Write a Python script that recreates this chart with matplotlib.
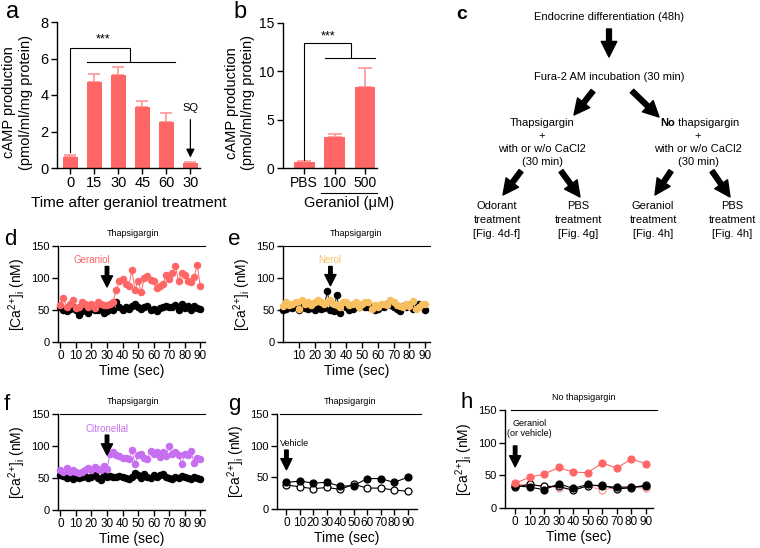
import matplotlib.pyplot as plt
from matplotlib.transforms import blended_transform_factory

plt.rcParams['font.family'] = ['Liberation Sans', 'DejaVu Sans']
plt.rcParams['mathtext.default'] = 'regular'

RED = '#FF6666'
PINK = '#FF9C9C'
PURPLE = '#C86EF0'
YELLOW = '#F8C060'

# panel a: cAMP vs time after geraniol
a_labels = ['0', '15', '30', '45', '60', '30']
a_vals = [0.6, 4.7, 5.1, 3.35, 2.5, 0.3]
a_err = [0.1, 0.45, 0.45, 0.3, 0.5, 0.03]

# panel b: cAMP vs geraniol dose
b_labels = ['PBS', '100', '500']
b_vals = [0.6, 3.2, 8.35]
b_err = [0.1, 0.3, 2.0]

# panels d-f: 2 s sampling
t_fast = list(range(0, 92, 2))
d_geraniol = [58, 68, 55, 60, 66, 53, 54, 63, 60, 55, 60, 53, 63, 60, 58, 58, 60, 63, 82, 95,
              99, 90, 88, 112, 82, 95, 78, 100, 103, 97, 95, 84, 88, 90, 104, 99, 108, 118, 95, 108,
              104, 95, 93, 102, 120, 87]
d_ctrl = [55, 50, 48, 52, 55, 50, 42, 48, 53, 46, 52, 50, 50, 55, 46, 48, 52, 50, 62, 55,
          50, 54, 52, 56, 60, 55, 52, 55, 56, 50, 52, 48, 53, 55, 56, 55, 54, 58, 50, 60,
          53, 57, 50, 56, 53, 52]
e_nerol = [57, 62, 58, 60, 62, 52, 65, 60, 62, 58, 62, 65, 62, 60, 62, 65, 60, 58, 55, 62,
           63, 58, 60, 62, 55, 60, 62, 62, 52, 58, 55, 60, 60, 58, 66, 62, 58, 57, 55, 60,
           56, 64, 52, 55, 60, 60]
e_ctrl = [50, 52, 55, 53, 55, 50, 55, 53, 52, 53, 50, 53, 52, 53, 80, 50, 48, 73, 46, 60,
          55, 50, 52, 56, 55, 58, 55, 54, 55, 50, 52, 56, 55, 60, 58, 55, 52, 48, 56, 55,
          58, 52, 55, 60, 56, 50]
f_citronellal = [62, 60, 66, 60, 62, 60, 58, 60, 62, 66, 62, 67, 64, 63, 68, 64, 88, 90, 86, 85,
                 82, 82, 80, 93, 72, 86, 87, 82, 80, 92, 88, 90, 83, 91, 85, 100, 87, 90, 86, 72,
                 88, 86, 92, 74, 82, 80]
f_ctrl = [55, 53, 50, 52, 48, 51, 50, 52, 53, 50, 52, 54, 50, 47, 55, 52, 53, 52, 52, 53,
          52, 50, 48, 52, 58, 55, 50, 56, 52, 50, 55, 52, 54, 56, 52, 50, 48, 52, 50, 53,
          52, 50, 48, 51, 50, 48]

# panels g-h: 10 s sampling
t_slow = [0, 10, 20, 30, 40, 50, 60, 70, 80, 90]
g_filled = [42, 44, 41, 42, 36, 37, 48, 48, 42, 50]
g_open = [38, 35, 32, 34, 31, 39, 33, 33, 30, 28]
h_geraniol = [38, 47, 52, 62, 55, 54, 69, 61, 75, 68]
h_red_open = [36, 36, 33, 31, 29, 33, 28, 31, 32, 30]
h_black_filled = [34, 32, 28, 37, 30, 36, 33, 32, 32, 33]
h_black_open = [32, 36, 33, 33, 27, 34, 35, 29, 31, 35]

W, H = 760, 548
fig = plt.figure(figsize=(7.6, 5.48), dpi=100)

# overlay in pixel coords for letters and the flow chart
ov = fig.add_axes([0, 0, 1, 1])
ov.set_xlim(0, W)
ov.set_ylim(H, 0)
ov.axis('off')


def rect(l, t, r, b):
    return [l / W, 1 - b / H, (r - l) / W, (b - t) / H]


def style(ax, tick_fs):
    for s in ['top', 'right']:
        ax.spines[s].set_visible(False)
    for s in ['left', 'bottom']:
        ax.spines[s].set_linewidth(1.0)
    ax.tick_params(direction='out', length=4, width=1.0, labelsize=tick_fs, pad=2)


def big_arrow(x0, y0, x1, y1, scale=14):
    ov.annotate('', xy=(x1, y1), xytext=(x0, y0),
                arrowprops=dict(arrowstyle='simple,head_length=0.8,head_width=0.8,tail_width=0.25',
                                color='black', mutation_scale=scale, shrinkA=0, shrinkB=0))


for txt, x, y in [('d', 4, 229), ('e', 228, 229), ('f', 4, 394), ('g', 228, 394), ('h', 461, 392)]:
    ov.text(x, y, txt, fontsize=16, va='top', ha='left')
ov.text(6, 1, 'a', fontsize=17, va='top', ha='left')
ov.text(233, 1, 'b', fontsize=17, va='top', ha='left')
ov.text(456, 6, 'c', fontsize=14, va='top', ha='left', fontweight='bold')

# ---- panel a ----
ax = fig.add_axes(rect(57, 22, 200, 168))
xa = list(range(len(a_vals)))
ax.bar(xa, a_vals, width=0.62, color=RED, zorder=2)
ax.errorbar(xa, a_vals, yerr=[[0] * len(a_err), a_err], fmt='none', ecolor=PINK,
            elinewidth=1.3, capsize=4, capthick=1.3, zorder=1)
ax.set_xlim(-0.55, 5.4)
ax.set_ylim(0, 8)
ax.set_yticks([0, 2, 4, 6, 8])
ax.set_xticks(xa)
ax.set_xticklabels(a_labels)
style(ax, 10.5)
ax.set_ylabel('cAMP production\n(pmol/ml/mg protein)', fontsize=10.5, labelpad=3)
ax.yaxis.set_label_coords(-0.17, 0.45)
ax.set_xlabel('Time after geraniol treatment', fontsize=11, labelpad=4)
ax.plot([0, 0, 2.5, 2.5], [0.85, 6.6, 6.6, 5.8], color='black', lw=0.8)
ax.plot([0.7, 4.35], [5.8, 5.8], color='black', lw=0.8)
ax.text(1.35, 6.7, '***', ha='center', va='bottom', fontsize=9)
ax.text(5, 3.0, 'SQ', ha='center', va='bottom', fontsize=8)
ax.annotate('', xy=(5, 0.42), xytext=(5, 2.8),
            arrowprops=dict(arrowstyle='-|>,head_width=0.25,head_length=0.5', color='black', lw=0.9))

# ---- panel b ----
ax = fig.add_axes(rect(283, 23, 377, 168))
xb = list(range(len(b_vals)))
ax.bar(xb, b_vals, width=0.68, color=RED, zorder=2)
ax.errorbar(xb, b_vals, yerr=[[0] * len(b_err), b_err], fmt='none', ecolor=PINK,
            elinewidth=1.3, capsize=5, capthick=1.3, zorder=1)
ax.set_xlim(-0.7, 2.4)
ax.set_ylim(0, 15)
ax.set_yticks([0, 5, 10, 15])
ax.set_xticks(xb)
ax.set_xticklabels(b_labels)
style(ax, 10)
ax.set_ylabel('cAMP production\n(pmol/ml/mg protein)', fontsize=10.5, labelpad=3)
ax.yaxis.set_label_coords(-0.3, 0.45)
ax.plot([0, 0, 1.55, 1.55], [0.85, 12.9, 12.9, 11.4], color='black', lw=0.8)
ax.plot([0.7, 2.35], [11.4, 11.4], color='black', lw=0.8)
ax.text(0.8, 13.0, '***', ha='center', va='bottom', fontsize=9)
tr = blended_transform_factory(ax.transData, ax.transAxes)
ax.plot([0.55, 2.4], [-0.17, -0.17], color='black', lw=0.8, transform=tr, clip_on=False)
ax.text(1.47, -0.19, 'Geraniol (\u03bcM)', ha='center', va='top', fontsize=10.5, transform=tr)

# ---- panel c: flow chart ----
fs = 8
ov.text(609, 17, 'Endocrine differentiation (48h)', ha='center', va='center', fontsize=fs)
big_arrow(609, 29, 609, 57)
ov.text(609, 77, 'Fura-2 AM incubation (30 min)', ha='center', va='center', fontsize=fs)
big_arrow(593, 91, 574, 115)
big_arrow(632, 91, 659, 117)
for cx, first in [(542, 'Thapsigargin'), (698, None)]:
    if first:
        ov.text(cx, 123, first, ha='center', va='center', fontsize=fs)
    for yy, line in [(136, '+'), (149, 'with or w/o CaCl2'), (162, '(30 min)')]:
        ov.text(cx, yy, line, ha='center', va='center', fontsize=fs)
ov.text(675, 123, 'No', ha='right', va='center', fontsize=fs, fontweight='bold')
ov.text(675, 123, ' thapsigargin', ha='left', va='center', fontsize=fs)
big_arrow(521, 171, 503, 195)
big_arrow(561, 171, 580, 197)
big_arrow(671, 171, 655, 195)
big_arrow(712, 171, 730, 197)
for cx, txt in [(497, 'Odorant\ntreatment\n[Fig. 4d-f]'), (578, 'PBS\ntreatment\n[Fig. 4g]'),
                (653, 'Geraniol\ntreatment\n[Fig. 4h]'), (732, 'PBS\ntreatment\n[Fig. 4h]')]:
    for k, line in enumerate(txt.split('\n')):
        ov.text(cx, 206 + 14 * k, line, ha='center', va='center', fontsize=fs)


# ---- calcium panels ----
def ca_axes(l, t, r, b, xlim, xticks):
    ax = fig.add_axes(rect(l, t, r, b))
    ax.set_xlim(*xlim)
    ax.set_ylim(0, 150)
    ax.set_yticks([0, 50, 100, 150])
    ax.set_xticks(xticks)
    style(ax, 8.5)
    ax.tick_params(axis='y', labelsize=8)
    ax.set_ylabel('[Ca$^{2{+}}$]$_{i}$ (nM)', fontsize=10, labelpad=2)
    ax.set_xlabel('Time (sec)', fontsize=10, labelpad=1)
    return ax


def header(ax, x0, x1, txt):
    ax.plot([x0, x1], [150, 150], color='black', lw=0.8, clip_on=False)
    ax.text((x0 + x1) / 2, 163, txt, ha='center', va='bottom', fontsize=6.5)


def small_arrow(ax, x, y0, y1):
    ax.annotate('', xy=(x, y1), xytext=(x, y0),
                arrowprops=dict(arrowstyle='simple,head_length=0.8,head_width=0.8,tail_width=0.25',
                                color='black', mutation_scale=10, shrinkA=0, shrinkB=0))


ticks10 = [0, 10, 20, 30, 40, 50, 60, 70, 80, 90]
mk = dict(marker='o', ms=4.4, lw=0.7, clip_on=False)

# d
ax = ca_axes(58, 246, 205, 342, (-1.5, 93), ticks10)
ax.plot(t_fast, d_ctrl, color='black', zorder=2, **mk)
ax.plot(t_fast, d_geraniol, color=RED, zorder=3, **mk)
header(ax, 0, 93, 'Thapsigargin')
ax.text(20, 128, 'Geraniol', color=RED, ha='center', va='center', fontsize=7)
small_arrow(ax, 30, 118, 86)

# e
ax = ca_axes(283, 246, 430, 342, (0, 93), ticks10[1:])
ax.plot(t_fast, e_ctrl, color='black', zorder=2, **mk)
ax.plot(t_fast, e_nerol, color=YELLOW, zorder=3, **mk)
header(ax, 0, 93, 'Thapsigargin')
ax.text(29.5, 128, 'Nerol', color=YELLOW, ha='center', va='center', fontsize=7)
small_arrow(ax, 30, 118, 88)

# f
ax = ca_axes(58, 414, 205, 510, (-1.5, 93), ticks10)
ax.plot(t_fast, f_ctrl, color='black', zorder=2, **mk)
ax.plot(t_fast, f_citronellal, color=PURPLE, zorder=3, **mk)
header(ax, 0, 93, 'Thapsigargin')
ax.text(30, 126, 'Citronellal', color=PURPLE, ha='center', va='center', fontsize=7)
small_arrow(ax, 30, 117, 86)

# g
mk2 = dict(marker='o', ms=5, lw=0.8, mew=0.9, clip_on=False)
ax = ca_axes(277, 414, 417, 509, (-7, 97), ticks10)
ax.plot(t_slow, g_open, color='black', mfc='white', zorder=2, **mk2)
ax.plot(t_slow, g_filled, color='black', zorder=3, **mk2)
header(ax, -5, 100, 'Thapsigargin')
ax.text(-5, 103, 'Vehicle', ha='left', va='center', fontsize=6.5)
small_arrow(ax, 0, 93, 62)

# h
ax = ca_axes(505, 410, 653, 508, (-7, 95), ticks10)
ax.plot(t_slow, h_red_open, color=PINK, mfc='white', zorder=2, **mk2)
ax.plot(t_slow, h_black_open, color='black', mfc='white', zorder=2, **mk2)
ax.plot(t_slow, h_black_filled, color='black', zorder=3, **mk2)
ax.plot(t_slow, h_geraniol, color=RED, zorder=4, **mk2)
header(ax, -3, 98, 'No thapsigargin')
ax.text(10, 122, 'Geraniol\n(or vehicle)', ha='center', va='center', fontsize=6.5)
small_arrow(ax, 0, 95, 63)

fig.savefig('out.png', dpi=100)
